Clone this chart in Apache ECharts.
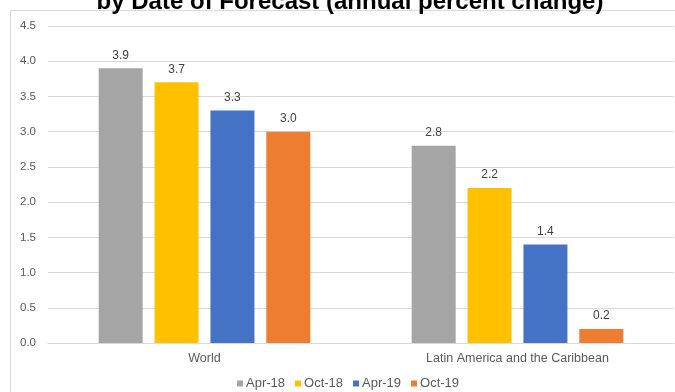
<!DOCTYPE html>
<html>
<head>
<meta charset="utf-8">
<script src="https://cdn.jsdelivr.net/npm/echarts@6/dist/echarts.min.js"></script>
<style>
  html, body { margin: 0; padding: 0; background: #ffffff; }
  #chart { width: 675px; height: 392px; }
</style>
</head>
<body>
<div id="chart"></div>
<script>
// Real GDP growth forecasts by vintage
var regions = ['World', 'Latin America and the Caribbean'];
var forecastDates = ['Apr-18', 'Oct-18', 'Apr-19', 'Oct-19'];
var apr18 = [3.9, 2.8];
var oct18 = [3.7, 2.2];
var apr19 = [3.3, 1.4];
var oct19 = [3.0, 0.2];
var yTicks = [0, 0.5, 1.0, 1.5, 2.0, 2.5, 3.0, 3.5, 4.0, 4.5];

var seriesValues = [apr18, oct18, apr19, oct19];
var palette = ['#A5A5A5', '#FFC000', '#4472C4', '#ED7D31'];
var FONT = '"Liberation Sans", Arial, sans-serif';

var chart = echarts.init(document.getElementById('chart'), null, { renderer: 'canvas' });

var series = forecastDates.map(function (name, i) {
  return {
    name: name,
    type: 'bar',
    data: seriesValues[i],
    barWidth: 44,
    barGap: '27%',
    itemStyle: { color: palette[i] },
    label: {
      show: true,
      position: 'top',
      distance: 7,
      color: '#404040',
      fontFamily: FONT,
      fontSize: 12,
      formatter: function (p) { return p.value.toFixed(1); }
    }
  };
});

chart.setOption({
  animation: false,
  backgroundColor: '#ffffff',
  color: palette,
  title: {
    text: 'by Date of Forecast (annual percent change)',
    left: 345,
    textAlign: 'center',
    top: -15,
    textStyle: {
      fontFamily: FONT,
      fontWeight: 'bold',
      fontSize: 24,
      color: '#000000',
      lineHeight: 24
    }
  },
  graphic: [{
    type: 'rect',
    shape: { x: 10.5, y: 10.5, width: 720, height: 420 },
    style: { fill: 'none', stroke: '#d9d9d9', lineWidth: 1 },
    silent: true,
    z: -1
  }],
  grid: { left: 48, right: 1, top: 26, bottom: 49, containLabel: false },
  legend: {
    data: forecastDates,
    bottom: 2,
    left: 237,
    padding: 0,
    icon: 'rect',
    itemWidth: 6,
    itemHeight: 6,
    itemGap: 10,
    textStyle: { color: '#595959', fontFamily: FONT, fontSize: 13, padding: [0, 0, 0, -2] }
  },
  xAxis: {
    type: 'category',
    data: regions,
    axisLine: { show: true, lineStyle: { color: '#d9d9d9' } },
    axisTick: { show: false },
    axisLabel: { color: '#595959', fontFamily: FONT, fontSize: 12.5, margin: 9 }
  },
  yAxis: {
    type: 'value',
    min: yTicks[0],
    max: yTicks[yTicks.length - 1],
    interval: 0.5,
    axisLine: { show: false },
    axisTick: { show: false },
    splitLine: { lineStyle: { color: '#d9d9d9' } },
    axisLabel: {
      color: '#595959',
      fontFamily: FONT,
      fontSize: 11.5,
      margin: 12,
      formatter: function (v) { return v.toFixed(1); }
    }
  },
  series: series
});
</script>
</body>
</html>
